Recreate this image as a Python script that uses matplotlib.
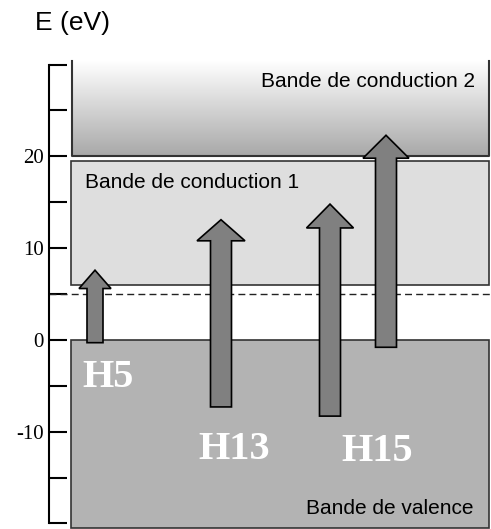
import numpy as np
import matplotlib
matplotlib.use("Agg")
import matplotlib.pyplot as plt
from matplotlib.patches import Rectangle, FancyArrow

# Energy bands (eV)
valence_band = (-20.5, 0.0)
conduction_1 = (6.0, 19.5)
conduction_2 = (20.0, 30.4)
gap_level = 5.0

# Harmonic transitions: start and end energies (eV)
harmonics = ["H5", "H13", "H15", ""]
e_start = [-0.3, -7.3, -8.3, -0.8]
e_end = [7.6, 13.1, 14.8, 22.3]
label_energy = [-5.1, -13.0, -13.2]

yticks = np.arange(-20, 31, 5)
ytick_labels = ["" if v not in (20, 10, 0, -10) else str(v) for v in yticks]

# layout (x axis in pixel-like units)
W, H = 491, 529
fig = plt.figure(figsize=(W / 100, H / 100), dpi=100)
px_per_e = 9.18
top_e = 32.0
ax_h = (H - (340 - px_per_e * top_e)) / H
ax = fig.add_axes([49 / W, 0, 1 - 49 / W, ax_h])
ax.set_xlim(49, 491)
ax.set_ylim(-20.6, top_e)

x_left, x_right = 71, 489
edge = "#333333"

# valence band
ax.add_patch(Rectangle((x_left, valence_band[0]), x_right - x_left,
                       valence_band[1] - valence_band[0],
                       facecolor="#b3b3b3", edgecolor=edge, lw=1.2, zorder=1))
# conduction band 1
ax.add_patch(Rectangle((x_left, conduction_1[0]), x_right - x_left,
                       conduction_1[1] - conduction_1[0],
                       facecolor="#dedede", edgecolor=edge, lw=1.2, zorder=1))
# conduction band 2 with gradient
grad = np.linspace(1.0, 0.66, 200).reshape(-1, 1)
ax.imshow(grad, cmap="gray", vmin=0, vmax=1, aspect="auto",
          extent=[x_left + 1, x_right, conduction_2[0], conduction_2[1]],
          origin="upper", zorder=1)
ax.plot([x_left + 1, x_left + 1, x_right, x_right],
        [conduction_2[1], conduction_2[0], conduction_2[0], conduction_2[1]],
        color=edge, lw=1.5, zorder=2)

# dashed gap line
ax.plot([49, 490], [gap_level, gap_level], color="#222222", lw=1,
        ls=(0, (5, 3)), zorder=2)

# arrows
arrow_x = [95, 221, 330, 386]
shaft_w = [16, 21, 21, 21]
head_w = [32, 48, 47, 46]
head_l = [2.0, 2.3, 2.6, 2.5]
for x, e0, e1, sw, hw, hl in zip(arrow_x, e_start, e_end, shaft_w, head_w, head_l):
    ax.add_patch(FancyArrow(x, e0, 0, e1 - e0, width=sw, head_width=hw,
                            head_length=hl, length_includes_head=True,
                            facecolor="#808080", edgecolor="black", lw=1.2,
                            zorder=3))

label_x = [108, 234, 377]
for name, x, e in zip(harmonics[:3], label_x, label_energy):
    ax.text(x, e, name, color="white", fontsize=29, fontweight="bold",
            family="Liberation Serif", ha="center", va="baseline", zorder=4)

ax.text(475, 27.6, "Bande de conduction 2", fontsize=15,
        family="Liberation Sans", ha="right", va="baseline", zorder=4)
ax.text(85, 16.6, "Bande de conduction 1", fontsize=15,
        family="Liberation Sans", ha="left", va="baseline", zorder=4)
ax.text(474, -19.0, "Bande de valence", fontsize=15,
        family="Liberation Sans", ha="right", va="baseline", zorder=4)

fig.text(35 / W, 1 - 30 / H, "E (eV)", fontsize=19, family="Liberation Sans",
         ha="left", va="baseline")

# axis
for s in ["top", "right", "bottom"]:
    ax.spines[s].set_visible(False)
ax.spines["left"].set_bounds(-20, 30)
ax.spines["left"].set_linewidth(1.5)
ax.set_xticks([])
ax.set_yticks(yticks)
ax.set_yticklabels(ytick_labels, family="Liberation Serif", fontsize=15)
ax.tick_params(axis="y", direction="in", length=13, width=1.5, pad=4)
ax.patch.set_alpha(0)

fig.savefig("out.png", dpi=100)
